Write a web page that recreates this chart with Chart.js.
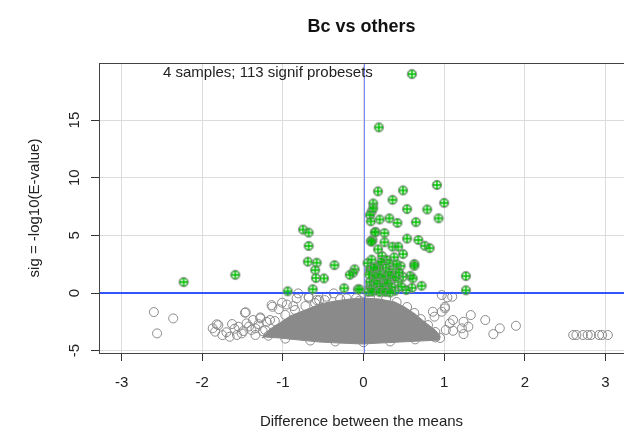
<!DOCTYPE html>
<html>
<head>
<meta charset="utf-8">
<script src="https://cdn.jsdelivr.net/npm/chart.js@4.4.1/dist/chart.umd.min.js"></script>
<style>
  html, body { margin: 0; padding: 0; background: #fff; }
  canvas { display: block; }
</style>
</head>
<body>
<canvas id="volcano" width="624" height="428"></canvas>
<script>
// outline of the solid grey mass (thousands of overlapping probesets)
const cloudX = [-1.26, -1.16, -1.04, -0.91, -0.79, -0.66, -0.54, -0.35, -0.17, -0.01, 0.20, 0.39, 0.51, 0.64,
  0.76, 0.89, 0.95, 0.94, 0.70, 0.45, 0.20, -0.01, -0.29, -0.54, -0.79, -1.04, -1.22, -1.26];
const cloudY = [-3.90, -3.12, -2.60, -1.99, -1.65, -1.30, -0.95, -0.69, -0.52, -0.43, -0.52, -0.78, -1.21, -1.82,
  -2.52, -3.21, -3.73, -4.08, -4.16, -4.25, -4.34, -4.42, -4.34, -4.25, -4.08, -3.90, -3.82, -3.90];

// scattered non-significant probesets
const greyX = [-2.60, -2.36, -2.56, -1.87, -1.84, -1.80, -1.66, -1.63, -1.55, -1.51,
  -1.46, -1.45, -1.37, -1.34, -1.28, -1.34, -1.13, -1.01, -0.87, -0.83,
  -0.81, -0.68, -0.55, -0.37, -0.21, -0.05, -1.16, -1.57, -1.39, -1.82,
  -1.47, -1.14, -0.68, -0.58, -0.46, -1.28, -1.22, -1.10, -0.97, -0.85,
  -0.72, -0.60, -0.48, -0.29, -0.09, 0.08, 0.28, 0.41, 0.54, 0.63,
  0.71, 0.80, 0.89, 0.95, -1.18, -0.97, -0.66, -0.35, 0.00, 0.33,
  0.64, 0.89, 0.97, 1.04, 1.10, 1.01, 0.97, 1.33, 1.51, 1.11,
  1.07, 1.24, 1.30, 1.22, 1.11, 1.24, 1.61, 1.69, 1.89, 1.01,
  0.86, 0.88, 1.02, 2.60, 2.64, 2.72, 2.78, 2.82, 2.92, 2.96,
  3.03, -1.70, -1.60, -1.49, -1.42, -1.30, -1.25, -1.20, -1.05, -0.95, -1.75];
const greyY = [-1.65, -2.20, -3.50, -3.06, -3.35, -2.78, -3.79, -2.69, -2.92, -3.50,
  -1.67, -2.63, -2.34, -3.06, -2.11, -3.64, -1.19, -0.84, -1.13, -0.46,
  -0.03, -0.32, -0.61, -0.03, -0.46, -0.65, -2.34, -3.64, -3.20, -2.71,
  -1.71, -1.04, -0.41, -0.61, -0.32, -2.20, -3.20, -2.43, -1.90, -1.47,
  -1.13, -0.87, -0.61, -0.52, -0.43, -0.35, -0.52, -0.78, -1.21, -1.73,
  -2.26, -2.78, -3.38, -3.90, -3.70, -3.95, -4.12, -4.20, -4.27, -4.20,
  -4.02, -3.85, -0.17, -0.37, -0.32, -1.33, -1.62, -1.91, -2.34, -2.34,
  -2.63, -2.49, -2.92, -3.06, -3.27, -3.56, -3.56, -3.06, -2.84, -1.19,
  -1.62, -2.05, -3.20, -3.64, -3.64, -3.64, -3.64, -3.64, -3.64, -3.64,
  -3.64, -3.40, -3.10, -3.30, -2.90, -2.70, -3.30, -2.50, -1.40, -1.00, -3.65];

// the 113 significant probesets
const sigX = [0.60, 0.19, 0.91, 0.49, 0.18, 0.36, 1.00, 0.12, 0.54, 0.79,
  0.10, 0.08, 0.20, 0.32, 0.09, 0.42, 0.65, 0.93, 0.15, 0.26,
  0.11, 0.09, 0.26, 0.54, 0.68, 0.76, 0.82, 0.18, 0.36, 0.43,
  0.49, 0.23, 0.38, 0.29, 0.63, 0.63, 0.46, 0.32, 0.19, 0.09,
  0.20, 0.37, -0.11, -0.13, -0.17, 0.49, 0.58, 0.61, 0.12, 0.25,
  0.33, 0.43, 0.72, 0.60, -0.24, -0.07, 0.08, 0.16, 0.29, 0.39,
  0.53, -0.36, 1.27, 1.27, -0.75, -0.68, -0.68, -0.69, -0.58, -0.60,
  -0.59, -0.49, -0.94, -0.63, -0.05, -2.23, -1.59, 0.14, 0.10, 0.12,
  0.08, 0.12, 0.18, 0.08, 0.14, 0.20, 0.25, 0.10, 0.23, 0.05,
  0.07, 0.10, 0.13, 0.15, 0.17, 0.21, 0.22, 0.24, 0.27, 0.28,
  0.30, 0.31, 0.34, 0.35, 0.40, 0.41, 0.44, 0.47, 0.06, 0.11,
  0.20, 0.27, 0.33];
const sigY = [18.99, 14.37, 9.37, 8.90, 8.82, 8.08, 7.82, 7.77, 7.28, 7.25,
  7.05, 6.76, 6.38, 6.48, 6.22, 6.08, 6.15, 6.48, 5.30, 5.20,
  4.60, 4.50, 4.40, 4.72, 4.60, 4.10, 3.90, 3.79, 4.02, 4.02,
  3.38, 3.21, 3.10, 2.86, 2.52, 2.36, 2.34, 2.58, 2.40, 2.14,
  1.99, 2.06, 2.06, 1.76, 1.58, 1.41, 1.50, 1.27, 1.27, 1.19,
  1.13, 0.98, 0.63, 0.45, 0.42, 0.32, 0.55, 0.26, 0.41, 0.20,
  0.26, 2.42, 1.47, 0.24, 5.50, 5.24, 4.08, 2.72, 2.63, 1.99,
  1.30, 1.27, 0.15, 0.33, 0.32, 0.95, 1.58, 5.26, 4.45, 7.35,
  1.99, 1.71, 2.28, 0.98, 1.13, 1.27, 0.84, 0.41, 0.32, 2.60,
  1.60, 2.90, 2.20, 1.50, 0.80, 1.60, 2.70, 0.55, 1.45, 2.20,
  0.90, 1.80, 1.55, 0.50, 1.40, 2.50, 1.80, 0.55, 0.10, 0.12,
  0.08, 0.10, 0.05];

const noteText = '4 samples; 113 signif probesets';
const FONT = '"Liberation Sans", Arial, Helvetica, sans-serif';

function toPoints(xs, ys) {
  return xs.map((x, i) => ({ x: x, y: ys[i] }));
}

// circle-with-plus marker drawn over a grey ring, like R's pch=10 on top of pch=1
function makeSigMarker() {
  const c = document.createElement('canvas');
  c.width = 12;
  c.height = 12;
  const g = c.getContext('2d');
  g.lineWidth = 1;
  g.strokeStyle = '#8a8a8a';
  g.beginPath(); g.arc(6, 6, 4.7, 0, Math.PI * 2); g.stroke();
  g.fillStyle = 'rgba(60,200,60,0.15)';
  g.strokeStyle = '#2aa52a';
  g.beginPath(); g.arc(6, 6, 3.8, 0, Math.PI * 2); g.fill(); g.stroke();
  g.strokeStyle = '#00c000';
  g.lineWidth = 1.4;
  g.beginPath();
  g.moveTo(6, 2); g.lineTo(6, 10);
  g.moveTo(2, 6); g.lineTo(10, 6);
  g.stroke();
  return c;
}

const plotDecor = {
  id: 'plotDecor',
  afterDatasetDraw(chart, args) {
    // reference lines go over the grey points but under the green ones
    if (args.index !== 1) return;
    const { ctx, chartArea: a, scales: { x, y } } = chart;
    ctx.save();
    const x0 = Math.round(x.getPixelForValue(0)) + 0.5;
    ctx.strokeStyle = 'rgba(30,60,255,0.6)';
    ctx.lineWidth = 1;
    ctx.beginPath(); ctx.moveTo(x0, a.top); ctx.lineTo(x0, a.bottom); ctx.stroke();
    const y0 = y.getPixelForValue(0);
    ctx.strokeStyle = '#3355ff';
    ctx.lineWidth = 2;
    ctx.beginPath(); ctx.moveTo(a.left, y0); ctx.lineTo(a.right, y0); ctx.stroke();
    ctx.restore();
  },
  afterDraw(chart) {
    const { ctx, chartArea: a, scales: { x, y } } = chart;
    ctx.save();
    ctx.strokeStyle = '#444';
    ctx.lineWidth = 1;
    ctx.strokeRect(a.left + 0.5, a.top + 0.5, a.right - a.left + 2, a.bottom - a.top);

    ctx.fillStyle = '#222';
    ctx.font = '15px ' + FONT;
    ctx.textAlign = 'center';
    ctx.textBaseline = 'middle';
    x.ticks.forEach(t => {
      ctx.fillText(String(t.value), x.getPixelForValue(t.value), a.bottom + 30);
    });
    // y tick labels are turned like in R (las = 0)
    y.ticks.forEach(t => {
      ctx.save();
      ctx.translate(a.left - 24, y.getPixelForValue(t.value));
      ctx.rotate(-Math.PI / 2);
      ctx.fillText(String(t.value), 0, 0);
      ctx.restore();
    });

    ctx.textAlign = 'left';
    ctx.fillText(noteText, a.left + 64, a.top + 10);
    ctx.restore();
  }
};

Chart.defaults.font.family = FONT;
Chart.defaults.color = '#222';

new Chart(document.getElementById('volcano'), {
  type: 'scatter',
  data: {
    datasets: [
      {
        label: 'cloud',
        data: toPoints(cloudX, cloudY),
        showLine: true,
        fill: 'shape',
        tension: 0,
        backgroundColor: '#8a8a8a',
        borderColor: '#8a8a8a',
        borderWidth: 1,
        pointRadius: 0,
        order: 3
      },
      {
        label: 'not significant',
        data: toPoints(greyX, greyY),
        pointRadius: 4.5,
        pointBorderWidth: 1,
        pointBorderColor: '#8a8a8a',
        pointBackgroundColor: 'rgba(0,0,0,0)',
        order: 2
      },
      {
        label: 'significant',
        data: toPoints(sigX, sigY),
        pointStyle: makeSigMarker(),
        pointRadius: 5,
        order: 1
      }
    ]
  },
  options: {
    responsive: false,
    animation: false,
    devicePixelRatio: 1,
    layout: { padding: 0, autoPadding: false },
    plugins: {
      legend: { display: false },
      tooltip: { enabled: false },
      title: {
        display: true,
        text: 'Bc vs others',
        fullSize: false,
        color: '#111',
        font: { size: 18, weight: 'bold' },
        padding: { top: 16, bottom: 25.4 }
      }
    },
    scales: {
      x: {
        type: 'linear',
        min: -3.28,
        max: 3.23,
        afterFit: s => { s.height = 75; },
        ticks: { stepSize: 1, includeBounds: false, display: false },
        grid: { color: '#dcdcdc', tickColor: '#333', tickLength: 8 },
        border: { display: false },
        title: {
          display: true,
          text: 'Difference between the means',
          font: { size: 15 },
          padding: { top: 0, bottom: -3 }
        }
      },
      y: {
        type: 'linear',
        min: -5.2,
        max: 19.95,
        afterFit: s => { s.width = 99; },
        ticks: { stepSize: 5, includeBounds: false, display: false },
        grid: { color: '#dcdcdc', tickColor: '#333', tickLength: 8 },
        border: { display: false },
        title: {
          display: true,
          text: 'sig = -log10(E-value)',
          font: { size: 15 },
          padding: { top: 26, bottom: 0 }
        }
      }
    }
  },
  plugins: [plotDecor]
});
</script>
</body>
</html>
